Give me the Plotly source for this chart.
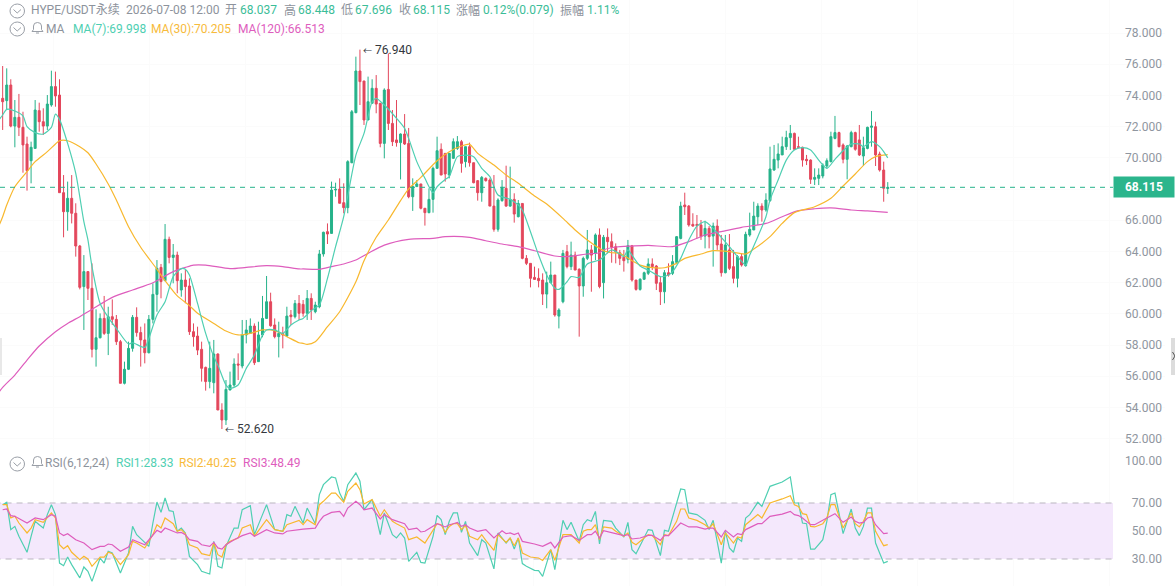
import plotly.graph_objects as go

# Candles, one row of ten per line
opens = [
73.82,73.67,74.67,72.04,72.60,71.96,70.89,69.82,70.61,73.03,
72.32,72.04,73.39,74.57,74.03,67.77,66.55,67.41,66.45,64.35,
61.75,62.71,61.64,57.73,58.47,59.71,58.75,59.82,59.65,58.22,
55.55,56.45,57.79,59.78,58.80,58.33,57.51,59.65,61.25,62.98,
62.13,64.78,63.62,63.77,61.53,62.17,61.79,58.86,58.58,57.73,
56.57,55.66,55.59,57.43,53.84,53.20,55.12,55.44,56.79,56.66,
58.65,58.75,59.22,56.94,58.65,59.71,60.78,59.29,58.54,58.75,
58.58,59.93,59.82,60.67,60.61,60.04,60.99,60.14,60.46,63.84,
65.27,65.16,67.94,68.00,67.13,66.81,69.69,72.90,75.57,74.93,
72.43,73.50,74.46,73.50,70.93,74.39,72.21,71.15,70.98,71.53,
70.93,67.51,68.16,68.33,66.77,66.49,67.34,69.33,70.55,70.29,
68.90,69.97,70.61,71.04,69.76,70.72,69.69,68.54,67.77,68.69,
68.58,66.91,65.42,67.26,68.05,66.91,67.34,66.23,67.08,63.56,
63.24,62.34,62.28,62.17,61.27,62.00,62.49,59.86,60.78,63.99,
63.03,63.77,62.86,61.79,63.56,64.10,63.88,65.06,62.00,64.91,
64.63,64.31,63.92,63.63,63.50,64.37,62.17,61.57,62.22,62.60,
63.20,63.07,62.00,61.42,62.64,62.60,63.30,64.84,66.98,66.91,
65.74,65.74,65.70,64.99,65.48,64.99,65.63,64.48,62.64,64.10,
63.03,62.28,63.67,63.09,65.06,65.38,66.23,66.91,66.66,67.26,
69.22,69.86,70.19,70.72,71.30,71.57,70.72,70.68,69.91,69.86,
68.63,68.69,68.84,69.48,69.76,71.25,71.62,70.83,69.91,70.72,
71.62,71.15,70.12,70.61,71.96,72.00,70.25,69.22,68.037]
highs = [
75.89,75.74,75.04,73.71,74.10,72.96,71.36,71.04,73.71,73.54,
73.18,74.03,75.59,75.53,75.04,68.90,68.48,68.90,67.09,64.42,
63.77,62.71,63.24,60.29,60.03,61.15,60.46,60.93,59.93,58.33,
56.94,58.22,59.93,60.42,59.18,59.39,59.93,61.96,63.45,63.20,
65.76,64.95,64.48,63.99,62.60,62.81,62.28,59.39,59.18,58.22,
56.62,58.22,58.33,57.47,54.27,55.76,56.30,57.15,57.47,59.61,
59.61,59.71,59.39,59.50,61.15,62.43,61.36,59.71,59.50,59.18,
60.46,60.25,60.89,61.21,60.89,61.53,61.32,60.78,64.10,65.27,
65.80,68.48,68.41,68.69,68.37,69.85,73.07,76.49,76.94,74.93,
75.21,75.04,75.31,73.50,74.46,76.70,73.07,73.71,71.57,72.81,
71.92,68.69,68.58,68.33,66.77,68.05,69.44,71.36,70.93,70.29,
70.29,71.25,71.40,71.15,70.72,70.98,69.69,68.58,68.84,68.75,
68.69,68.90,67.41,68.58,69.50,69.44,67.73,67.30,67.08,63.77,
63.24,63.03,62.92,62.60,62.71,63.35,62.49,60.36,64.10,64.42,
64.63,63.99,62.92,63.67,65.38,64.42,65.16,65.48,65.06,65.48,
65.16,64.52,64.10,64.10,64.74,64.42,62.17,62.28,62.71,63.56,
63.56,63.13,62.39,62.81,63.24,63.77,64.99,67.19,67.77,66.98,
66.45,66.34,66.02,65.97,65.63,65.85,66.06,65.06,65.06,65.12,
64.10,63.77,63.88,65.27,66.49,67.19,67.09,67.09,67.73,70.72,
70.83,70.93,71.36,71.74,72.11,71.62,71.36,70.72,70.19,69.91,
69.33,69.33,69.65,69.97,71.68,72.69,71.68,70.93,70.83,71.74,
71.68,72.11,71.36,72.00,73.00,72.32,70.40,69.76,68.448]
lows = [
71.79,73.07,71.96,70.68,71.40,69.05,67.90,68.37,70.61,71.68,
71.47,71.79,73.28,73.28,67.77,64.91,65.33,65.80,63.67,61.57,
58.97,60.89,57.21,56.62,58.43,58.65,57.36,59.29,58.01,55.55,
55.48,56.40,57.58,58.54,56.62,56.83,57.47,59.39,60.14,61.00,
62.13,63.24,61.96,61.32,61.10,60.68,58.65,57.90,57.36,55.66,
55.08,55.23,54.91,53.84,52.62,52.88,55.12,55.33,55.76,56.51,
58.11,58.75,56.72,56.94,58.50,59.71,59.18,58.43,57.21,57.79,
58.54,59.29,59.71,59.61,59.82,59.61,59.61,60.04,60.36,63.67,
64.48,65.16,67.51,67.09,66.45,66.45,69.66,72.86,73.39,72.11,
72.43,73.50,72.86,70.68,69.97,71.79,70.76,70.72,68.62,70.83,
67.41,66.60,68.16,66.70,65.66,66.45,66.49,69.33,68.90,68.48,
68.69,69.97,70.51,69.05,69.39,69.44,68.37,67.26,67.19,68.48,
66.91,65.27,65.27,67.19,66.87,66.87,65.85,66.19,63.50,63.13,
61.70,62.21,61.70,60.57,60.36,61.96,59.82,59.07,60.68,62.92,
62.81,62.81,58.54,61.10,63.45,61.42,63.45,61.64,60.99,63.88,
63.28,63.24,63.13,62.71,63.24,62.07,61.49,61.49,62.17,62.49,
62.81,61.53,60.57,60.68,62.39,62.49,63.24,64.78,66.34,65.59,
65.59,64.84,64.74,64.20,64.20,63.03,64.10,62.39,62.60,62.81,
61.96,61.70,63.03,63.03,64.95,65.38,65.70,65.91,66.55,67.19,
69.18,69.33,70.19,70.51,70.51,70.51,70.61,69.44,69.54,68.33,
68.26,68.26,68.69,69.33,69.71,71.19,70.68,69.65,68.63,70.68,
70.46,70.12,69.48,70.55,70.72,69.48,69.12,67.19,67.696]
closes = [
73.60,74.67,72.04,72.60,71.96,70.83,69.18,70.68,73.07,72.32,
72.04,73.45,74.57,73.97,67.77,66.55,67.41,66.45,64.35,61.70,
62.71,61.64,57.73,58.47,59.71,58.75,59.82,59.65,58.22,55.55,
56.45,57.79,59.78,58.80,58.33,57.51,59.65,61.25,62.92,62.07,
64.78,63.62,63.77,62.13,62.17,61.75,58.86,58.54,57.68,56.51,
55.66,56.51,57.43,53.84,53.20,55.16,55.44,56.79,56.72,58.65,
58.97,59.22,56.87,58.65,59.71,60.78,59.24,58.54,58.75,58.65,
59.86,59.82,60.67,60.04,60.04,60.99,60.25,60.57,63.84,65.23,
65.12,67.94,67.98,67.09,66.81,69.76,72.96,75.57,74.89,72.43,
73.60,74.46,73.45,70.93,74.35,72.21,71.04,70.98,71.53,70.89,
67.51,68.16,68.33,66.77,66.49,67.34,69.33,70.46,68.90,68.97,
70.29,71.04,71.04,69.65,70.72,69.69,68.41,67.77,68.75,68.54,
66.91,65.42,67.30,68.11,66.91,67.34,66.40,67.08,63.56,63.24,
62.28,62.21,62.13,61.27,62.00,62.49,59.93,60.25,63.88,63.03,
63.77,62.81,61.79,63.56,64.10,63.77,65.06,61.75,64.91,64.63,
64.27,63.99,63.56,63.41,64.37,62.17,61.57,62.22,62.64,63.20,
63.03,61.96,61.42,62.64,62.49,63.35,64.95,66.91,66.87,65.70,
65.63,65.66,64.95,65.48,64.95,65.63,64.42,62.64,64.42,62.92,
62.28,63.67,63.13,65.10,65.42,66.27,66.91,66.66,67.30,69.29,
69.91,70.25,70.72,71.30,71.57,70.55,70.68,69.86,69.82,68.63,
68.75,68.90,69.54,69.82,71.36,71.62,70.72,69.91,70.76,71.62,
70.55,70.19,70.65,71.96,72.04,70.19,69.22,68.05,68.115]
candle_idx = list(range(len(opens)))

# Moving averages: candle index and value at each vertex (index -1 lies just off the left edge)
ma7_idx = [-1,0,1,3,5,6,8,10,12,13,14,16,18,20,21,22,24,26,28,31,32,35,36,38,40,42,44,45,46,48,50,52,53,55,56,58,60,62,64,65,67,69,71,73,
74,76,78,80,82,84,87,89,91,92,94,97,99,100,102,104,106,107,109,110,112,114,116,118,120,122,125,127,128,130,132,134,136,137,139,140,142,144,147,
148,150,152,153,154,155,157,159,162,164,165,167,169,171,173,175,177,179,181,183,184,186,188,189,191,193,195,197,199,201,203,205,207,209,211,212,214,216,217,218]
ma7_val = [72.40,72.75,73.11,73.01,72.69,72.00,71.62,71.53,71.96,72.81,72.47,70.93,69.01,65.91,64.74,63.03,60.67,59.78,59.07,58.07,58.15,57.85,58.43,59.93,60.78,62.39,62.90,62.86,62.49,60.67,58.75,57.26,56.72,55.44,55.23,55.44,56.51,57.36,58.65,58.97,58.97,58.75,59.29,59.61,
59.71,60.21,60.57,62.28,64.31,66.23,70.18,71.57,73.60,73.82,73.39,72.54,71.89,71.25,69.76,68.69,67.77,68.15,68.62,68.80,70.08,70.18,70.08,69.33,68.80,67.62,67.34,66.98,66.66,65.27,63.77,62.49,61.64,61.57,62.06,62.39,62.34,63.20,63.45,
63.67,64.10,63.84,63.67,64.10,63.77,63.07,62.81,62.39,62.49,62.71,63.56,64.74,65.63,65.91,65.48,64.91,64.31,63.67,63.13,63.77,64.95,66.23,67.30,68.58,69.86,70.51,70.66,70.51,69.86,69.33,69.91,70.46,70.89,70.89,70.72,71.04,70.72,70.40,69.998]
ma30_idx = [-1,0,1,3,6,8,11,13,14,16,19,21,23,26,28,31,34,38,40,43,46,48,52,55,58,61,64,67,70,73,
74,75,77,80,83,87,89,92,95,98,100,103,107,110,113,115,117,121,124,127,131,134,138,141,144,147,
148,150,152,155,157,160,163,166,168,172,175,179,183,185,189,192,195,200,204,207,210,213,215,218]
ma30_val = [65.60,66.23,66.98,68.15,69.12,69.76,70.40,70.89,71.10,71.10,70.72,70.33,69.61,68.33,67.30,65.59,64.27,62.86,62.13,61.15,60.53,60.04,59.39,58.90,58.65,58.75,58.97,58.92,58.54,58.15,
58.11,58.05,58.22,59.18,60.14,62.06,63.40,64.91,66.02,67.26,68.01,68.75,69.82,70.40,70.76,70.87,70.29,69.54,68.90,68.37,67.56,67.04,66.12,65.38,64.74,64.20,
64.05,63.92,63.88,63.41,63.13,62.96,62.96,63.24,63.56,63.84,64.05,63.99,63.84,64.16,64.95,65.80,66.49,66.87,67.41,68.20,68.97,69.76,70.08,70.205]
ma120_idx = [-1,0,3,6,9,13,16,19,22,27,32,37,42,45,47,50,56,60,65,69,73,
74,78,81,84,87,90,94,100,106,109,115,119,123,127,131,136,139,144,147,
148,151,155,159,165,169,173,177,182,188,192,196,200,204,209,213,218]
ma120_val = [54.95,55.29,56.08,57.04,57.94,58.86,59.39,59.82,60.29,61.06,61.53,62.00,62.71,62.98,63.13,63.13,62.90,62.98,63.09,63.03,62.88,
62.88,62.86,63.03,63.20,63.45,63.88,64.41,64.78,64.84,64.95,64.91,64.69,64.48,64.31,64.05,63.71,63.67,63.84,63.92,
64.10,64.29,64.35,64.39,64.31,64.63,65.06,65.27,65.55,65.80,66.23,66.62,66.74,66.79,66.66,66.60,66.513]

# RSI lines: candle index and value at each vertex
rsi1_idx = [0,1,2,3,4,6,7,8,9,10,11,12,13,14,15,16,17,19,20,21,22,24,25,26,27,29,31,32,33,35,36,37,38,39,40,41,42,43,44,45,46,48,49,51,52,53,54,55,56,57,58,59,61,62,64,65,67,69,70,71,72,73,74,75,77,78,79,81,82,83,84,85,87,88,89,91,92,93,94,96,97,98,99,100,102,103,104,106,107,108,109,110,
111,112,113,114,115,117,118,119,121,122,124,125,126,127,128,129,131,132,133,135,136,138,139,140,142,143,144,145,146,147,148,150,151,153,154,155,156,159,160,162,163,164,167,168,169,171,173,174,175,177,178,179,180,181,182,183,184,186,187,189,192,194,195,196,197,198,199,200,202,203,204,205,207,209,210,211,212,213,214,215,217,218]
rsi1_val = [68.8,70.5,51,53.3,46.2,34.8,46.2,56.9,54.5,52.1,61.7,68.8,61.7,27.1,25.2,31.4,26,16.5,24.3,21.2,14,30.7,27.1,35.5,34.3,20,34.3,53.3,47.4,41.4,39,55.7,70.7,63.3,73.6,64.5,64,49.8,52.1,48.6,31.9,26,21.2,19.3,42.6,24.8,23.6,39,45,52.1,52.1,65.2,68.1,47.4,61.7,68.8,51,49.8,61.7,60.5,67.6,61.7,55.7,66.4,55.2,76,83.1,88.6,87.9,77.1,71.2,83.1,91.4,85.5,65.2,72.4,60.5,47.4,62.9,47.4,45,48.6,45,28.3,34.8,27.6,27.1,46.2,61.2,58.1,47.4,56.9,
62.9,62.9,49,56.9,41.4,32.4,43.8,41.4,22.9,48.6,41.4,45,37.1,45,26.7,24.8,21.9,21.7,17.6,36.7,22.4,57.6,51,56.2,42.6,54.5,58.1,56.9,64,40.7,57.6,56.9,52.1,45.7,56.2,36.7,33.8,51,50.5,32.4,50.5,49.8,80,79.5,62.9,61.7,57.6,51,57.6,27.1,49.8,37.9,34.8,45,42.6,59.3,61.7,70.5,67.6,81.9,85,88.6,70,70,55.7,55.2,37.1,37.1,43.8,56.9,76,77.1,48.1,65.7,52.1,46.7,53.3,66.4,66.4,41.4,27.1,28.33]
rsi2_idx = [0,1,2,3,4,6,7,8,10,12,13,14,15,16,17,19,20,21,22,24,25,26,27,29,31,32,33,35,37,38,39,40,42,43,44,45,46,48,49,51,52,53,54,55,56,58,59,61,62,65,67,69,70,72,73,74,75,77,78,79,81,82,84,85,87,88,89,91,93,94,96,97,99,100,102,104,106,107,108,109,110,
111,112,113,114,115,117,118,119,121,122,124,125,126,127,128,130,132,133,135,136,138,140,142,143,144,145,146,147,148,150,151,153,154,155,156,159,160,162,163,164,166,167,168,169,171,173,174,175,177,178,180,181,182,183,184,186,187,189,192,194,195,196,197,198,199,200,202,203,204,205,207,209,210,211,212,213,214,215,217,218]
rsi2_val = [68.8,68.8,59.3,60.5,55.7,48.6,52.1,58.1,56.2,62.9,59.3,40.2,37.4,39.5,34.8,29.5,31.9,30,24.8,31.4,31.4,34.8,33.8,26,33.1,42.6,41.4,37.9,47.4,54.5,52.1,59.3,55.2,49.8,51,47.9,40.2,37.9,33.8,32.4,41.4,33.1,31.4,40.2,42.6,45,52.1,54.5,46.2,58.1,51,49.8,54.5,56.9,57.6,54.5,58.1,54.5,68.8,71.2,77.1,77.1,70.5,78.3,84.3,79.5,69.3,72.4,60.5,65.2,56.9,55.2,52.1,43.8,45.7,41.4,51,55.2,54.5,49,53.3,
55.2,55.2,51,53.8,46.2,43.8,47.4,43.3,36.2,47.4,41.9,45,39.5,45,34.3,31.4,30.7,29,36.7,29,47.4,47.4,41.4,49.8,51,51,54.5,43.8,52.9,52.1,49.8,46.2,48.6,41.9,40.2,47.4,46.7,40.2,47.4,46.7,56.9,65.7,65.7,59.3,57.6,54.5,52.1,55.2,40.2,48.6,41.4,45.7,45,54.5,56.9,61.7,59.3,70,72.9,75.2,68.8,67.6,62.4,61.7,53.3,52.9,55.2,59.3,68.8,68.8,52.1,62.9,55.2,52.9,56.9,62.9,62.9,49.8,39.5,40.25]
rsi3_idx = [0,1,2,3,6,7,8,10,12,13,14,15,16,18,20,22,24,25,26,27,29,31,32,35,37,38,39,40,43,44,45,46,48,49,51,52,53,54,55,57,59,61,62,65,67,69,70,73,74,77,78,79,81,83,84,85,87,88,89,91,93,94,96,99,100,102,103,104,107,109,110,
111,112,113,114,115,117,119,121,123,124,125,126,127,128,131,133,135,136,138,140,142,144,145,146,147,148,151,153,154,155,157,159,160,162,163,164,167,169,171,173,174,175,177,178,180,181,182,183,186,187,189,192,194,195,196,197,199,200,203,205,207,209,210,211,212,213,214,215,217,218]
rsi3_val = [65.2,65.7,61,60.5,55.7,57.6,59.3,58.1,61.7,60.5,48.6,46.7,48.1,43.8,41.4,36.7,39,39,40.7,40.2,35.5,38.6,43.8,40.2,46.7,50.5,49,52.1,48.6,49,47.4,43.8,42.6,40.2,39,41.9,37.9,37.1,40.2,43.8,46.7,48.6,46.2,51,48.6,47.9,49.8,51.4,51.4,52.1,56.9,60.5,63.3,64,60.5,66.4,71.2,68.8,65.2,66.4,58.6,61.7,58.1,55.2,51,52.1,49.3,49.8,55.2,52.9,54.5,
55.2,56.2,53.3,54.5,52.1,49.8,51,45,50.2,48.1,48.6,47.4,48.6,42.6,40.7,39,41.9,37.9,45.7,46.7,43.3,47.4,47.4,49.8,45,50.2,48.1,46.7,47.4,44.3,45,46.9,46.9,43.3,46.9,46.7,55.7,52.9,52.9,51.4,52.1,52.1,45.7,50.5,45.7,48.1,47.4,51,55.2,55.2,60.5,62.1,64,61.7,61,59.3,54.5,54.5,59.3,62.4,56.2,60,56.9,55.7,56.2,59.3,60,54.5,48.1,48.49]

price_ticks = list(range(52, 80, 2))
rsi_ticks = [30, 50, 70, 100]
last_price = 68.115
peak_idx, peak_price = 88, 76.94
trough_idx, trough_price = 54, 52.62

header_row = [
    (31, "HYPE/USDT永续", "g"), (126, "2026-07-08 12:00", "g"), (225, "开", "g"), (240, "68.037", "u"),
    (284, "高", "g"), (298, "68.448", "u"), (341, "低", "g"), (355, "67.696", "u"),
    (399, "收", "g"), (413, "68.115", "u"), (456, "涨幅", "g"), (483, "0.12%(0.079)", "u"),
    (560, "振幅", "g"), (587, "1.11%", "u"),
]
ma_row = [(46, "MA", "g"), (72.5, "MA(7):69.998", "t"), (151, "MA(30):70.205", "o"), (237.5, "MA(120):66.513", "m")]
rsi_row = [(45, "RSI(6,12,24)", "g"), (115.5, "RSI1:28.33", "t"), (179, "RSI2:40.25", "o"), (242.5, "RSI3:48.49", "m")]

UP, DOWN = "#26b28a", "#e3475c"
TEAL, ORANGE, MAGENTA = "#4fcfb2", "#f8b82e", "#de5dbd"
PALETTE = {"g": "#8d939c", "u": "#3bbd98", "t": TEAL, "o": "#f7bb3c", "m": MAGENTA}
FONT = "Roboto, 'Noto Sans CJK SC', sans-serif"
W, H = 1175, 586
PANE_SPLIT = 450
STEP, X0 = 4.06, 2.67
BAND_END = (1113 - X0) / STEP


def fx(px):
    return px / W


def fy(py):
    return 1 - py / H


fig = go.Figure()
fig.add_trace(go.Candlestick(
    x=candle_idx, open=opens, high=highs, low=lows, close=closes,
    increasing=dict(line=dict(color=UP, width=1), fillcolor=UP),
    decreasing=dict(line=dict(color=DOWN, width=1), fillcolor=DOWN),
    whiskerwidth=0, hoverinfo="skip", showlegend=False,
))
for xs, ys, colour in [(ma120_idx, ma120_val, MAGENTA), (ma30_idx, ma30_val, ORANGE), (ma7_idx, ma7_val, TEAL)]:
    fig.add_trace(go.Scatter(x=xs, y=ys, mode="lines", hoverinfo="skip", showlegend=False,
                             line=dict(color=colour, width=1.2, shape="spline", smoothing=0.7)))
for xs, ys, colour in [(rsi1_idx, rsi1_val, TEAL), (rsi2_idx, rsi2_val, ORANGE), (rsi3_idx, rsi3_val, MAGENTA)]:
    fig.add_trace(go.Scatter(x=xs, y=ys, yaxis="y2", mode="lines", hoverinfo="skip", showlegend=False,
                             line=dict(color=colour, width=1.2)))

shapes = [
    # RSI reference band and its dashed limits, kept above the gridlines
    dict(type="rect", layer="between", xref="x", yref="y2", x0=-2, x1=BAND_END, y0=30, y1=70,
         fillcolor="#f4e8fc", line_width=0),
    dict(type="line", layer="between", xref="x", yref="y2", x0=-2, x1=BAND_END, y0=70, y1=70,
         line=dict(color="#b9b5bf", width=1, dash="6px,5px")),
    dict(type="line", layer="between", xref="x", yref="y2", x0=-2, x1=BAND_END, y0=30, y1=30,
         line=dict(color="#b9b5bf", width=1, dash="6px,5px")),
    # Last price line
    dict(type="line", xref="paper", yref="y", x0=0, x1=fx(1113), y0=last_price, y1=last_price,
         line=dict(color=UP, width=1, dash="5px,5px")),
    # Side handles
    dict(type="rect", xref="paper", yref="paper", x0=0, x1=fx(2), y0=fy(375), y1=fy(338),
         fillcolor="#e8e8e8", line_width=0),
    dict(type="rect", xref="paper", yref="paper", x0=fx(1171), x1=1, y0=fy(375), y1=fy(338),
         fillcolor="#dcdcdc", line_width=0),
    dict(type="path", xref="paper", yref="paper",
         path=f"M{fx(1172.5)},{fy(352)} L{fx(1175)},{fy(356)} L{fx(1172.5)},{fy(360)}",
         line=dict(color="#555555", width=1)),
]

# Collapse chevrons and bell glyphs in the pane headers
ICON = "#9a9fa7"
for cy in (11, 29, 464):
    shapes.append(dict(type="circle", xref="paper", yref="paper", x0=fx(10), x1=fx(24.5),
                       y0=fy(cy + 7), y1=fy(cy - 7), line=dict(color=ICON, width=1)))
    shapes.append(dict(type="path", xref="paper", yref="paper",
                       path=f"M{fx(13.5)},{fy(cy - 1.5)} L{fx(17.2)},{fy(cy + 2)} L{fx(21)},{fy(cy - 1.5)}",
                       line=dict(color=ICON, width=1)))
for cy in (28, 462):
    shapes.append(dict(type="path", xref="paper", yref="paper",
                       path=(f"M{fx(32)},{fy(cy + 3.5)} L{fx(33.5)},{fy(cy + 1.5)} L{fx(33.5)},{fy(cy - 2)} "
                             f"Q{fx(33.5)},{fy(cy - 5.5)} {fx(37.5)},{fy(cy - 5.5)} "
                             f"Q{fx(41.5)},{fy(cy - 5.5)} {fx(41.5)},{fy(cy - 2)} L{fx(41.5)},{fy(cy + 1.5)} "
                             f"L{fx(43)},{fy(cy + 3.5)} Z M{fx(36)},{fy(cy + 5)} L{fx(39)},{fy(cy + 5)}"),
                       line=dict(color=ICON, width=1)))

annotations = []
for row, py in ((header_row, 10.5), (ma_row, 29), (rsi_row, 463)):
    for px, text, key in row:
        annotations.append(dict(text=text, x=fx(px - 2), y=fy(py), xref="paper", yref="paper",
                                xanchor="left", yanchor="middle", showarrow=False,
                                font=dict(family=FONT, size=12, color=PALETTE[key])))
annotations += [
    dict(text='<span style="font-size:9px">←</span> 76.940', x=peak_idx, y=peak_price, xanchor="left",
         yanchor="middle", xshift=1, showarrow=False, font=dict(family=FONT, size=12, color="#33373d")),
    dict(text='<span style="font-size:9px">←</span> 52.620', x=trough_idx, y=trough_price, xanchor="left",
         yanchor="middle", xshift=1, showarrow=False, font=dict(family=FONT, size=12, color="#33373d")),
    dict(text="<b>68.115</b>", x=fx(1113), y=last_price, xref="paper", yref="y", xanchor="left", yanchor="middle",
         showarrow=False, width=60, height=20, align="center", bgcolor="#2bb58c", borderpad=0,
         font=dict(family=FONT, size=12, color="#ffffff")),
]

axis_font = dict(family=FONT, size=12, color="#8f96a0")
fig.update_layout(
    width=W, height=H, margin=dict(l=0, r=0, t=0, b=0),
    paper_bgcolor="#ffffff", plot_bgcolor="#ffffff", showlegend=False,
    shapes=shapes, annotations=annotations,
    xaxis=dict(domain=[0, fx(1165)], range=[(0 - X0) / STEP, (1165 - X0) / STEP], rangeslider=dict(visible=False),
               showticklabels=False, ticks="", zeroline=False, showline=False,
               showgrid=True, gridcolor="#fbfbfb", tick0=12.4, dtick=23.65),
    yaxis=dict(domain=[fy(PANE_SPLIT), 1], range=[68.115 - (PANE_SPLIT - 187.3) / 15.6, 68.115 + 187.3 / 15.6],
               side="right", tickmode="array", tickvals=price_ticks, tickformat=".3f",
               ticklabelposition="inside", ticks="", tickfont=axis_font,
               zeroline=False, showline=False, showgrid=True, gridcolor="#fbfbfb"),
    yaxis2=dict(domain=[0, fy(PANE_SPLIT)], range=[70 - (H - 503) / 1.4, 70 + (503 - PANE_SPLIT) / 1.4],
                anchor="x", side="right", tickmode="array", tickvals=rsi_ticks, tickformat=".2f",
                ticklabelposition="inside", ticks="", tickfont=axis_font,
                zeroline=False, showline=False, showgrid=False),
)
fig.write_html("out.html", config={"displayModeBar": False})
